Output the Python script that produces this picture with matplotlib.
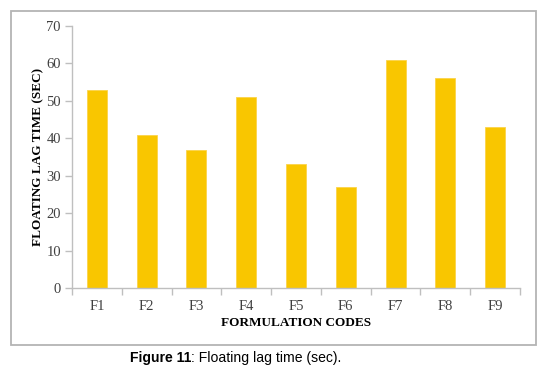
import matplotlib
matplotlib.use("Agg")
import matplotlib.pyplot as plt
from matplotlib.patches import Rectangle

categories = ["F1", "F2", "F3", "F4", "F5", "F6", "F7", "F8", "F9"]
values = [53, 41, 37, 51, 33, 27, 61, 56, 43]
yticks = [0, 10, 20, 30, 40, 50, 60, 70]

W, H = 553, 378
fig = plt.figure(figsize=(W / 100, H / 100), dpi=100)

# outer frame
fig.patches.append(Rectangle((11 / W, 1 - 345 / H), 525 / W, 334 / H,
                             transform=fig.transFigure, fill=False,
                             edgecolor="#b4b4b4", linewidth=1.3))

ax = fig.add_axes([72 / W, 1 - 288 / H, (520 - 72) / W, (288 - 26) / H])
x = list(range(len(categories)))
ax.bar(x, values, width=0.4, color="#F9C600", edgecolor="#FBD34A", linewidth=0.6)
ax.set_xlim(-0.5, len(categories) - 0.5)
ax.set_ylim(0, 70)
ax.set_yticks(yticks)
ax.set_yticklabels([str(t) for t in yticks])
ax.set_xticks(x)
ax.set_xticklabels(categories)
ax.set_xticks([i - 0.5 for i in range(len(categories) + 1)], minor=True)

for s in ["top", "right"]:
    ax.spines[s].set_visible(False)
for s in ["left", "bottom"]:
    ax.spines[s].set_color("#bfbfbf")
    ax.spines[s].set_linewidth(1.0)

serif = "Liberation Serif"
ax.tick_params(axis="y", direction="out", length=5, color="#bfbfbf", width=1,
               labelsize=10.5, labelcolor="#404040", pad=3)
ax.tick_params(axis="x", which="major", length=0, labelsize=10.5,
               labelcolor="#404040", pad=9)
ax.tick_params(axis="x", which="minor", direction="out", length=5,
               color="#bfbfbf", width=1)
for lbl in ax.get_xticklabels() + ax.get_yticklabels():
    lbl.set_fontfamily(serif)

fig.text(38 / W, 1 - 157 / H, "FLOATING LAG TIME (SEC)", rotation=90,
         ha="center", va="center", fontfamily=serif, fontweight="bold",
         fontsize=9.5, color="#000000")
fig.text(296 / W, 1 - 323 / H, "FORMULATION CODES", ha="center", va="center",
         fontfamily=serif, fontweight="bold", fontsize=9.5, color="#000000")

# caption
t1 = fig.text(130 / W, 1 - 358 / H, "Figure 11", ha="left", va="center",
              fontfamily="Liberation Sans", fontweight="bold", fontsize=10.1)
fig.canvas.draw()
bb = t1.get_window_extent()
fig.text(bb.x1 / W, 1 - 358 / H, ": Floating lag time (sec).", ha="left",
         va="center", fontfamily="Liberation Sans", fontsize=10.1)

fig.savefig("out.png", dpi=100)
